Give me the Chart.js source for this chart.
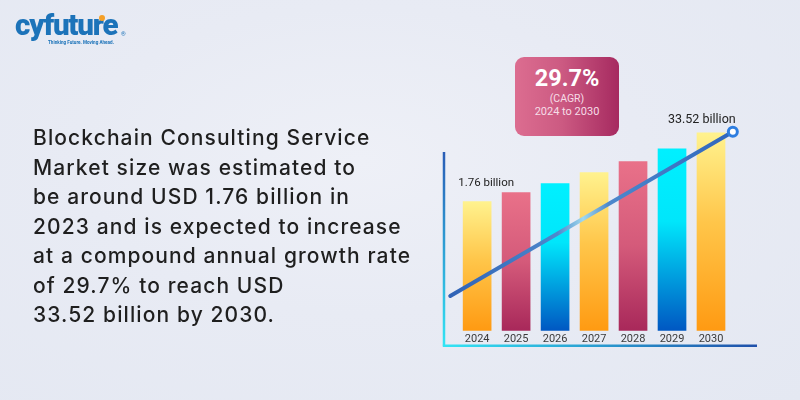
<!DOCTYPE html>
<html>
<head>
<meta charset="utf-8">
<script src="https://cdn.jsdelivr.net/npm/chart.js@4.4.1/dist/chart.umd.min.js"></script>
<style>
  html, body { margin: 0; padding: 0; }
  body { width: 800px; height: 400px; overflow: hidden; position: relative;
    background: radial-gradient(ellipse at 45% 40%, #eef0f7 0%, #e8ebf4 45%, #e4e8f2 100%);
    font-family: Roboto, "Open Sans", sans-serif; }
  #wrap { position: absolute; left: 0; top: 0; width: 800px; height: 400px; }
  .logo { position: absolute; left: 15px; top: 5px; color: #1c73b9; font-family: Roboto, sans-serif;
    font-weight: 900; font-size: 29.5px; letter-spacing: -1.2px; line-height: 40px; }
  .logo .dot { position: absolute; width: 6px; height: 6px; border-radius: 50%; background: #f5a027; left: 84px; top: 10px; }
  .reg { position: absolute; left: 121px; top: 31px; font-size: 6px; line-height: 6px; font-weight: 700; color: #1c73b9; }
  .tag { position: absolute; left: 48px; top: 40px; font-size: 4.6px; font-weight: 700; color: #1c73b9; font-family: Roboto, sans-serif; letter-spacing: 0; }
  .para { position: absolute; left: 33px; top: 123px; font-family: Inter, Roboto, sans-serif; font-size: 21px; line-height: 29.5px; color: #1f1f1f; font-weight: 500; letter-spacing: 1.1px; }
  .cagr { position: absolute; left: 515px; top: 57px; width: 104px; height: 79px; border-radius: 9px;
    background: linear-gradient(90deg, #dc6d90 0%, #cc5a82 45%, #a62a60 100%); color: #fff; text-align: center; }
  .cagr .big { font-size: 23.5px; font-weight: 700; margin-top: 8px; line-height: 26px; }
  .cagr .s1 { font-size: 10.5px; color: #f6dde7; line-height: 13px; margin-top: 1px; }
  .cagr .s2 { font-size: 11px; color: #f6dde7; line-height: 14px; }
</style>
</head>
<body>
<div id="wrap"><canvas id="c" width="800" height="400"></canvas></div>
<div class="logo">cyfuture<span class="dot"></span></div>
<div class="reg">®</div>
<div class="tag">Thinking Future. Moving Ahead.</div>
<div class="para">Blockchain Consulting Service<br>Market size was estimated to<br>be around USD 1.76 billion in<br>2023 and is expected to increase<br>at a compound annual growth rate<br>of 29.7% to reach USD<br>33.52 billion by 2030.</div>
<div class="cagr"><div class="big">29.7%</div><div class="s1">(CAGR)</div><div class="s2">2024 to 2030</div></div>
<script>
// ---- data ----
const years = ["2024", "2025", "2026", "2027", "2028", "2029", "2030"];
const barValues = [130, 139, 148, 159, 170, 183, 199];      // relative bar heights as drawn
const barStyles = ["gold", "rose", "aqua", "gold", "rose", "aqua", "gold"];
const trendX = [-0.69, 6.56];
const trendY = [35, 200];
const valueLabels = ["1.76 billion", "33.52 billion"];

const palettes = {
  gold: [[0, "#fff28e"], [0.45, "#ffc64a"], [1, "#ff9a12"]],
  rose: [[0, "#e97189"], [0.5, "#d45a7a"], [1, "#a8285a"]],
  aqua: [[0, "#00f0ff"], [0.4, "#00e6fb"], [1, "#0057c2"]]
};

function barGradient(ctx) {
  const chart = ctx.chart;
  if (!chart.chartArea || ctx.type !== 'data') return '#ccc';
  const ys = chart.scales.y;
  const top = ys.getPixelForValue(barValues[ctx.dataIndex]);
  const base = ys.getPixelForValue(0);
  const g = chart.ctx.createLinearGradient(0, top, 0, base);
  palettes[barStyles[ctx.dataIndex]].forEach(s => g.addColorStop(s[0], s[1]));
  return g;
}
function lineGradient(ctx) {
  const chart = ctx.chart;
  if (!chart.chartArea) return '#3b6fc2';
  const xs = chart.scales.x;
  const g = chart.ctx.createLinearGradient(xs.getPixelForValue(trendX[0]), 0, xs.getPixelForValue(trendX[1]), 0);
  g.addColorStop(0, "#2f62b6");
  g.addColorStop(0.38, "#4d88cc");
  g.addColorStop(0.47, "#9fd8ee");
  g.addColorStop(0.56, "#4d88cc");
  g.addColorStop(1, "#2f66bd");
  return g;
}

const axisLines = {
  id: 'axisLines',
  afterDraw(chart) {
    const { ctx, chartArea } = chart;
    const left = chartArea.left, bottom = chartArea.bottom + 15;
    const top = chartArea.top + 52, right = chartArea.right;
    ctx.save();
    ctx.lineWidth = 2.5;
    let g = ctx.createLinearGradient(0, top, 0, bottom);
    g.addColorStop(0, "#2a5db6"); g.addColorStop(1, "#33e4f4");
    ctx.strokeStyle = g;
    ctx.beginPath(); ctx.moveTo(left, top); ctx.lineTo(left, bottom); ctx.stroke();
    g = ctx.createLinearGradient(left, 0, right, 0);
    g.addColorStop(0, "#33e4f4"); g.addColorStop(1, "#1f50aa");
    ctx.strokeStyle = g;
    ctx.beginPath(); ctx.moveTo(left - 1.2, bottom); ctx.lineTo(right, bottom); ctx.stroke();
    ctx.restore();
  }
};
const valueText = {
  id: 'valueText',
  afterDatasetsDraw(chart) {
    const { ctx } = chart;
    const bar0 = chart.getDatasetMeta(0).data[0];
    const end = chart.getDatasetMeta(1).data[1];
    ctx.save();
    ctx.fillStyle = "#222";
    ctx.textAlign = "center"; ctx.textBaseline = "middle";
    ctx.font = "11.5px Roboto";
    ctx.fillText(valueLabels[0], bar0.x + 9, bar0.y - 18);
    ctx.font = "12.5px Roboto";
    ctx.fillText(valueLabels[1], end.x - 31, end.y - 12);
    ctx.restore();
  }
};

new Chart(document.getElementById('c'), {
  data: {
    datasets: [
      { type: 'bar', data: years.map((y, i) => ({ x: i, y: barValues[i] })),
        backgroundColor: barGradient, barThickness: 28, borderWidth: 0, order: 2 },
      { type: 'line', data: trendX.map((x, i) => ({ x: x, y: trendY[i] })),
        borderColor: lineGradient, borderWidth: 4, borderCapStyle: 'round',
        pointRadius: [0, 4.5], pointBorderWidth: [0, 3], pointBackgroundColor: '#ffffff',
        pointBorderColor: '#2f7ee0', clip: false, order: 1 }
    ]
  },
  options: {
    responsive: false, animation: false,
    layout: { padding: { left: 444, right: 43, top: 100, bottom: 52 } },
    plugins: { legend: { display: false }, tooltip: { enabled: false } },
    scales: {
      x: { type: 'linear', min: -0.85, max: 7.18, offset: false,
        afterBuildTicks: s => { s.ticks = years.map((y, i) => ({ value: i })); },
        ticks: { callback: v => years[v], color: '#3a3a3a', font: { size: 11, family: 'Roboto' }, padding: 2, maxRotation: 0, autoSkip: false },
        grid: { display: false, drawTicks: false }, border: { display: false } },
      y: { display: false, min: 0, max: 232 }
    }
  },
  plugins: [axisLines, valueText]
});
</script>
</body>
</html>
